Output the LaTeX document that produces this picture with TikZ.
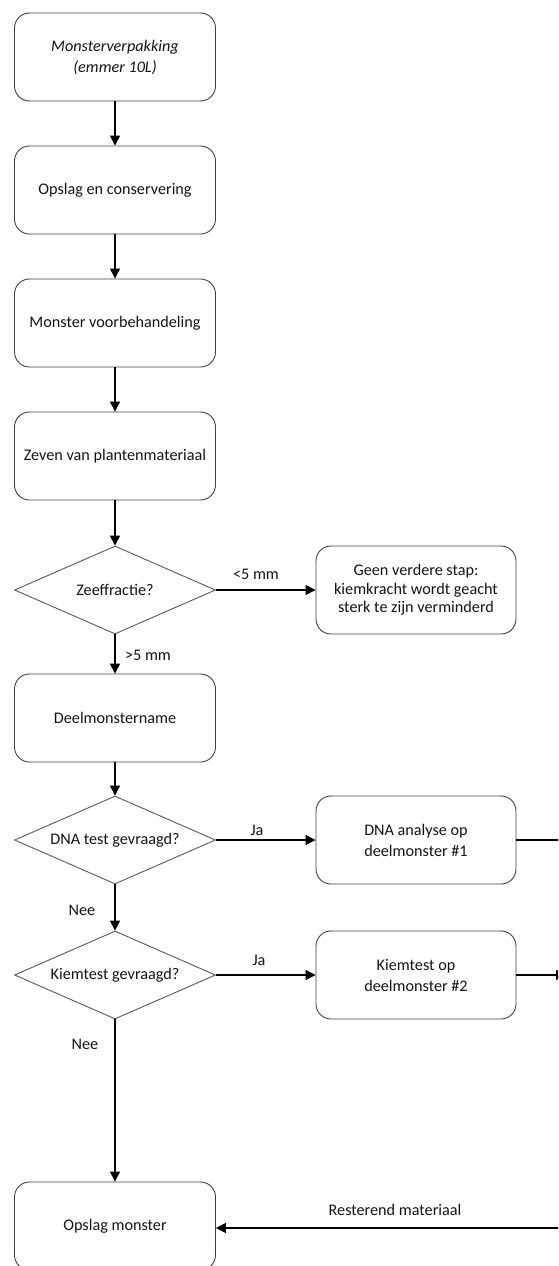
\documentclass[tikz,border=0pt]{standalone}
\usepackage{fontspec}
\setmainfont{Carlito}
\usetikzlibrary{arrows.meta,shapes.geometric}
\begin{document}
\begin{tikzpicture}[x=1pt,y=-1pt,
  every node/.style={font=\fontsize{16.2}{21}\selectfont, text=black!92},
  procbox/.style={draw=black!75, line width=0.9pt, rounded corners=15pt, minimum width=201pt, minimum height=88pt, align=center, inner sep=0pt},
  decision/.style={draw=black!65, line width=0.9pt, diamond, aspect=2.28, minimum width=201pt, minimum height=88pt, inner sep=0pt, align=center},
  flow/.style={line width=1.4pt, draw=black, -{Triangle[length=10pt,width=10pt]}},
  plainflow/.style={line width=1.4pt, draw=black},
  lbl/.style={font=\fontsize{16.2}{18}\selectfont, text=black!92, inner sep=0pt}
]
\useasboundingbox (0,0) rectangle (558,1266);
\clip (0,0) rectangle (558,1266);

\node[procbox] (b1) at (115,57) {\itshape Monsterverpakking\\\itshape (emmer 10L)};
\node[procbox] (b2) at (115,190) {Opslag en conservering};
\node[procbox] (b3) at (115,323) {Monster voorbehandeling};
\node[procbox] (b4) at (115,456) {Zeven van plantenmateriaal};
\node[decision] (d1) at (115,590) {Zeeffractie?};
\node[procbox, minimum width=200pt, font=\fontsize{16.2}{18.6}\selectfont] (g) at (416,590) {Geen verdere stap:\\kiemkracht wordt geacht\\sterk te zijn verminderd};
\node[procbox] (b5) at (115,718) {Deelmonstername};
\node[decision] (d2) at (115,840) {DNA test gevraagd?};
\node[procbox, minimum width=200pt] (dna) at (416,840) {DNA analyse op\\deelmonster \#1};
\node[decision] (d3) at (115,975) {Kiemtest gevraagd?};
\node[procbox, minimum width=200pt] (kt) at (416,975) {Kiemtest op\\deelmonster \#2};
\node[procbox] (om) at (115,1226) {Opslag monster};

\coordinate (r1) at (600,840);
\coordinate (r2) at (566,975);
\coordinate (r3) at (600,1228);

\draw[flow] (b1) -- (b2);
\draw[flow] (b2) -- (b3);
\draw[flow] (b3) -- (b4);
\draw[flow] (b4) -- (d1);
\draw[flow] (d1) -- (g);
\draw[flow] (d1) -- (b5);
\draw[flow] (b5) -- (d2);
\draw[flow] (d2) -- (dna);
\draw[flow] (d2) -- (d3);
\draw[flow] (d3) -- (kt);
\draw[flow] (d3) -- (om);
\draw[plainflow] (dna.east) -- (r1);
\draw[flow] (kt.east) -- (r2);
\draw[flow] (r3) -- (om.east |- r3);

\node[lbl] (l1) at (256,574) {<5 mm};
\node[lbl] (l2) at (148,655) {>5 mm};
\node[lbl] (l3) at (257,830) {Ja};
\node[lbl] (l4) at (259,960) {Ja};
\node[lbl] (l5) at (82,910) {Nee};
\node[lbl] (l6) at (85,1044) {Nee};
\node[lbl] (l7) at (395,1210) {Resterend materiaal};
\end{tikzpicture}
\end{document}
